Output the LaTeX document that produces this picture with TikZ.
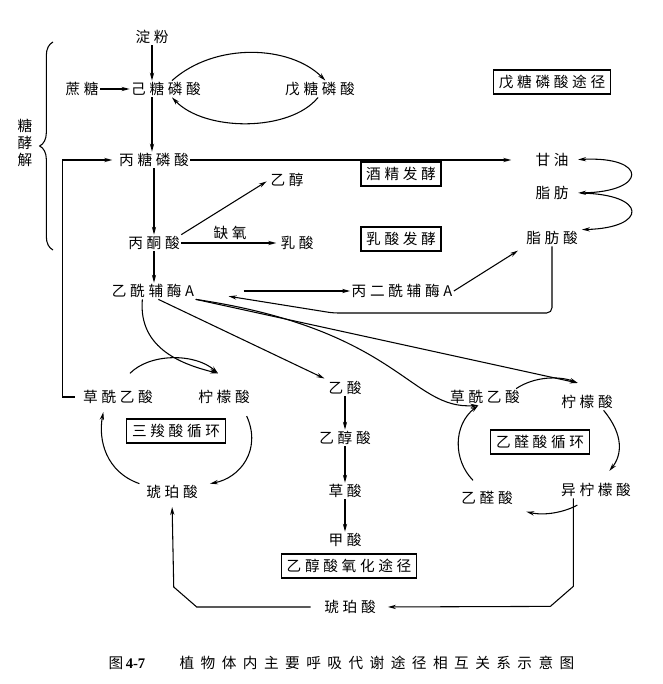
\documentclass[tikz,border=0pt]{standalone}
\usepackage{fontspec}
\setmainfont{Noto Sans CJK SC}[LetterSpace=25]
\newfontfamily\captfont{Noto Sans CJK SC}[LetterSpace=44]
\newfontfamily\numfont{Liberation Serif}
\usepackage{tikz}
\usetikzlibrary{arrows.meta,decorations.pathreplacing,calc}
\tikzstyle{chem}=[
inner sep=1pt,
font=\fontsize{11}{13}\selectfont
]
\tikzstyle{pathbox}=[
draw,
line width=1.1pt,
inner xsep=4pt,
minimum height=18pt,
font=\fontsize{11}{13}\selectfont
]
\tikzstyle{arrow}=[
line width=0.8pt,
-{Stealth[length=6pt,width=3.2pt]}
]
\tikzstyle{line}=[
line width=0.8pt
]

\begin{document}
\begin{tikzpicture}[x=0.75pt,y=-0.75pt]
\useasboundingbox (0,0) rectangle (662,684);

% glycolysis
\node (dianfen) [chem] at (152,37) {淀粉};
\node (zhetang) [chem] at (82,89) {蔗糖};
\node (jitang) [chem] at (166,89) {己糖磷酸};
\node (wutang) [chem] at (320,89) {戊糖磷酸};
\node (bingtang) [chem] at (154,160) {丙糖磷酸};
\node (yichun) [chem] at (287,180) {乙醇};
\node (bingtongsuan) [chem] at (154,243) {丙酮酸};
\node (rusuan) [chem] at (297,243) {乳酸};
\node (yixian) [chem] at (153,291) {乙酰辅酶A};

% fat
\node (ganyou) [chem] at (552,160) {甘油};
\node (zhifang) [chem] at (552,193) {脂肪};
\node (zhifangsuan) [chem] at (552,238) {脂肪酸};
\node (bingerxian) [chem] at (402,291) {丙二酰辅酶A};

% TCA cycle
\node (caoxian1) [chem] at (118,397) {草酰乙酸};
\node (ningmeng1) [chem] at (224,397) {柠檬酸};
\node (hupo1) [chem] at (172,492) {琥珀酸};

% glycolate pathway
\node (yisuan) [chem] at (345,388) {乙酸};
\node (yichunsuan) [chem] at (345,438) {乙醇酸};
\node (caosuan) [chem] at (345,491) {草酸};
\node (jiasuan) [chem] at (345,540) {甲酸};
\node (hupo2) [chem] at (350,607) {琥珀酸};

% glyoxylate cycle
\node (caoxian2) [chem] at (485,397) {草酰乙酸};
\node (ningmeng2) [chem] at (587,402) {柠檬酸};
\node (yining) [chem] at (596,490) {异柠檬酸};
\node (yiquansuan) [chem] at (487,498) {乙醛酸};

% pathway boxes
\node (boxwutang) [pathbox] at (552,82) {戊糖磷酸途径};
\node (boxjiujing) [pathbox] at (401,174) {酒精发酵};
\node (boxrusuan) [pathbox] at (401,239) {乳酸发酵};
\node (boxsanqiu) [pathbox] at (176,431) {三羧酸循环};
\node (boxyiquan) [pathbox] at (540,442) {乙醛酸循环};
\node (boxyichun) [pathbox] at (349,566) {乙醇酸氧化途径};

% glycolysis brace
\node (tangjiejie) [chem, align=center, font=\fontsize{11}{12.75}\selectfont] at (25,143) {糖\\酵\\解};
\draw [line, decorate, decoration={brace,amplitude=10pt}] (53,250) -- (53,42);

\draw [arrow] (dianfen.south) -- (dianfen.south |- jitang.north);
\draw [arrow] (zhetang.east) -- (jitang.west);
\draw [arrow] ([xshift=4.5pt]jitang.north) .. controls (215,42) and (290,45) .. ([xshift=4pt]wutang.north);
\draw [arrow] ([xshift=-1.5pt]wutang.south) .. controls (290,132) and (205,132) .. ([xshift=4.5pt]jitang.south);
\draw [arrow] (dianfen.south |- jitang.south) -- (dianfen.south |- bingtang.north);
\draw [arrow, shorten >=17pt] (bingtang.east) -- (ganyou.west);
\draw [arrow] (bingtang.south) -- (bingtongsuan.north);
\draw [arrow, shorten >=2pt] (bingtongsuan.north east) -- (yichun.west);
\draw [arrow, shorten >=2pt] (bingtongsuan.east) -- node[chem, midway, above=1pt] (queyang) {缺氧} (rusuan.west);
\draw [arrow] (bingtongsuan.south) -- (bingtongsuan.south |- yixian.north);

% fat synthesis and breakdown
\draw [arrow, shorten <=36pt] (yixian.east) -- (bingerxian.west);
\draw [arrow, shorten >=6pt] (bingerxian.east) -- (zhifangsuan.south west);
\draw [{Stealth[length=6pt,width=3.2pt]}-{Stealth[length=6pt,width=3.2pt]}, line width=0.8pt, shorten <=6pt, shorten >=6pt]
(ganyou.east) .. controls (648,156) and (648,192) .. (zhifang.east);
\draw [arrow, shorten <=8pt, shorten >=2pt] (zhifang.east) .. controls (648,194) and (648,228) .. (zhifangsuan.north east);
\draw [arrow, rounded corners=4pt, shorten >=25pt] (zhifangsuan.south) |- (333,313) -- (yixian.east);

% TCA cycle
\draw [arrow] ([xshift=-8pt]yixian.south) .. controls (138,350) and (185,365) .. ([xshift=-4.5pt,yshift=11.5pt]ningmeng1.north);
\draw [arrow] ([xshift=9pt,yshift=11.5pt]caoxian1.north) .. controls (150,353) and (195,353) .. ([xshift=-4.5pt,yshift=11.5pt]ningmeng1.north);
\draw [arrow] ([xshift=17pt,yshift=-8pt]ningmeng1.south) .. controls (262,450) and (240,478) .. ([xshift=8pt]hupo1.north east);
\draw [arrow] ([xshift=-4pt]hupo1.north west) .. controls (106,472) and (98,440) .. ([xshift=-11pt,yshift=-5pt]caoxian1.south);
\draw [arrow, shorten <=5pt, shorten >=4pt] (caoxian1.west) -- ++(-19,0) |- (bingtang.west);

% glycolate pathway
\draw [arrow, shorten >=2pt] ([xshift=4pt]yixian.south) -- (yisuan.north west);
\draw [arrow] (yisuan.south) -- (yichunsuan.north);
\draw [arrow] (yichunsuan.south) -- (caosuan.north);
\draw [arrow] (caosuan.south) -- (jiasuan.north);

% glyoxylate cycle
\draw [arrow] (yixian.south east) .. controls (400,330) and (410,410) .. ([xshift=-5pt]caoxian2.south);
\draw [arrow] (yixian.south east) -- ([xshift=-7pt,yshift=8pt]ningmeng2.north);
\draw [arrow] ([xshift=-4pt]caoxian2.north east) .. controls (535,376) and (560,376) .. ([xshift=-7pt,yshift=8pt]ningmeng2.north);
\draw [arrow] ([xshift=-8pt]ningmeng2.south east) .. controls (624,435) and (622,455) .. ([xshift=10pt,yshift=8pt]yining.north);
\draw [arrow] ([xshift=-14pt,yshift=-5pt]yining.south) .. controls (565,512) and (545,516) .. ([xshift=9pt,yshift=-4pt]yiquansuan.south east);
\draw [arrow] ([xshift=-10.5pt,yshift=7pt]yiquansuan.north) .. controls (453,460) and (453,425) .. ([xshift=-5pt]caoxian2.south);

% succinate links
\draw [arrow, shorten >=8pt] ([xshift=-17pt]yining.south) -- ++(0,88) -- ++(-23,20) -- (hupo2.east);
\draw [arrow, shorten <=9pt, shorten >=5pt] (hupo2.west) -- ++(-126,0) -- ++(-23,-20) -- (hupo1.south);

% caption
\node (captnum) [chem] at (127,663) {图\,{\numfont\bfseries 4-7}};
\node (capttext) [chem, font=\fontsize{11}{13}\captfont] at (377,663) {植物体内主要呼吸代谢途径相互关系示意图};

\end{tikzpicture}
\end{document}
